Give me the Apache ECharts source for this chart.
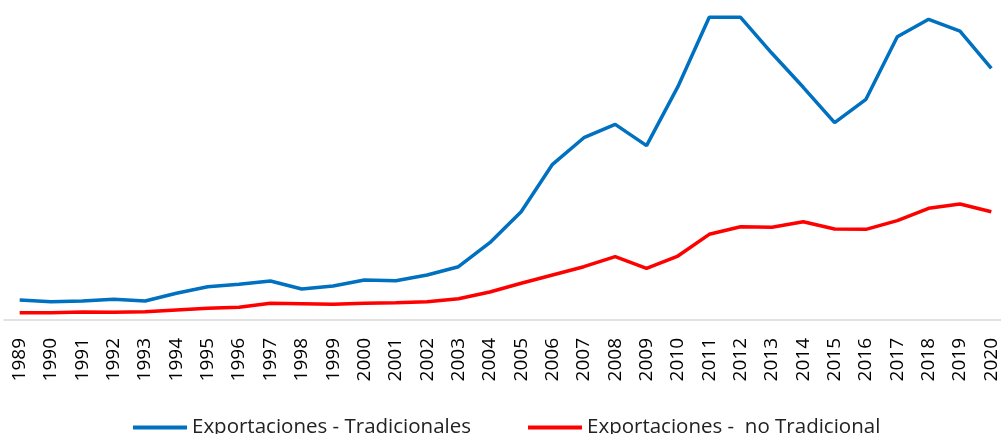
<!DOCTYPE html>
<html>
<head>
    <meta charset="utf-8">
    <title>exportaciones</title>
</head>
<body style="margin:0;">
<!-- contenedor del grafico -->
<div id="main" style="width: 1001px;height:434px;"></div>

<script src="https://cdn.jsdelivr.net/npm/echarts@6/dist/echarts.min.js"></script>

<script type="text/javascript">
// años
var years = ['1989','1990','1991','1992','1993','1994','1995','1996','1997','1998','1999',
    '2000','2001','2002','2003','2004','2005','2006','2007','2008','2009','2010',
    '2011','2012','2013','2014','2015','2016','2017','2018','2019','2020'];

// Exportaciones tradicionales (millones US$, estimado)
var tradicionales = [2360, 2160, 2240, 2440, 2240, 3150, 3930, 4210, 4600, 3660, 4010,
    4720, 4640, 5310, 6290, 9120, 12780, 18370, 21510, 23090, 20570, 27530,
    35720, 35720, 31470, 27460, 23280, 26040, 33430, 35480, 34100, 29700];

// Exportaciones no tradicionales
var noTradicionales = [860, 860, 940, 910, 980, 1180, 1380, 1500, 1970, 1920, 1850,
    1970, 2040, 2160, 2510, 3300, 4330, 5310, 6290, 7470, 6100, 7550,
    10110, 11010, 10940, 11600, 10740, 10700, 11720, 13180, 13690, 12780];

var myChart = echarts.init(document.getElementById('main'));

var option = {
    animation: false,
    textStyle: {
        fontFamily: 'Open Sans'
    },
    grid: {
        left: 4,
        right: -6,
        top: 0,
        bottom: 114,
        outerBoundsMode: 'none'
    },
    legend: {
        top: 412,
        left: 128,
        icon: 'rect',
        itemWidth: 54,
        itemHeight: 4,
        itemGap: 57,
        textStyle: {
            fontSize: 20.5,
            color: '#222',
            fontFamily: 'Open Sans'
        },
        data: ['Exportaciones - Tradicionales', 'Exportaciones -  no Tradicional']
    },
    xAxis: {
        type: 'category',
        data: years,
        boundaryGap: true,
        axisLine: {
            lineStyle: { color: '#d9d9d9', width: 1.5 }
        },
        axisTick: { show: false },
        axisLabel: {
            rotate: 90,
            margin: 18,
            fontSize: 19,
            color: '#000',
            interval: 0
        }
    },
    yAxis: {
        type: 'value',
        show: false,
        min: 0,
        max: 37760,
        splitLine: { show: false }
    },
    series: [{
        name: 'Exportaciones - Tradicionales',
        type: 'line',
        data: tradicionales,
        symbol: 'none',
        itemStyle: { color: '#0070C0' },
        lineStyle: { color: '#0070C0', width: 3.5 }
    }, {
        name: 'Exportaciones -  no Tradicional',
        type: 'line',
        data: noTradicionales,
        symbol: 'none',
        itemStyle: { color: '#FF0000' },
        lineStyle: { color: '#FF0000', width: 3.5 }
    }]
};

myChart.setOption(option);
</script>
</body>
</html>
